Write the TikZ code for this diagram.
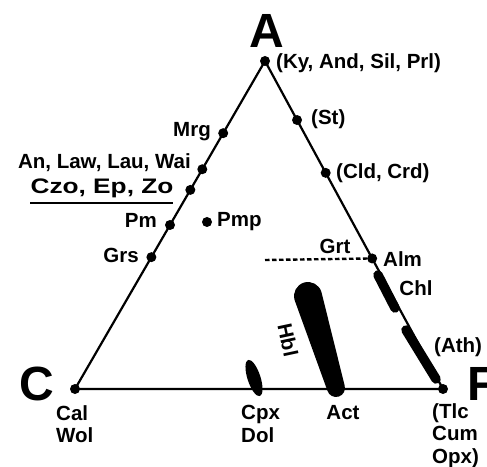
\documentclass[tikz,border=0pt]{standalone}
\usepackage{fontspec}
\setmainfont{Liberation Sans}
\usetikzlibrary{calc}

\tikzset{
  lbl/.style={font=\fontsize{20.5}{22.5}\selectfont\bfseries, inner sep=0pt},
  corner/.style={font=\fontsize{48}{48}\selectfont\bfseries, inner sep=0pt},
  phase/.style={fill, circle, inner sep=0pt, minimum size=10pt},
  band/.style={line width=9.5pt, line cap=round},
}

\begin{document}
\begin{tikzpicture}[x=1pt,y=1pt]
\useasboundingbox (0,0) rectangle (487,466);

% corners of the ACF triangle
\coordinate (A) at (265,405);
\coordinate (C) at (75,77);
\coordinate (F) at (443,77);

\draw[line width=2.2pt] (A) -- (C) -- (F) -- cycle;

\node[corner] (Alab) at (267,435) {A};
\node[corner] (Clab) at (37,82) {C};
\node[corner, anchor=west] (Flab) at (467,82) {F};

% phases on the A-C side
\node[phase] (ky)  at (A) {};
\node[phase] (mrg) at ($(A)!0.22!(C)$) {};
\node[phase] (an)  at ($(A)!0.33!(C)$) {};
\node[phase] (czo) at ($(A)!0.393!(C)$) {};
\node[phase] (pm)  at ($(A)!0.5!(C)$) {};
\node[phase] (grs) at ($(A)!0.598!(C)$) {};
\node[phase] (cal) at (C) {};

% phases on the A-F side
\node[phase] (st)  at ($(A)!0.18!(F)$) {};
\node[phase] (cld) at ($(A)!0.341!(F)$) {};
\node[phase] (alm) at ($(A)!0.602!(F)$) {};
\node[phase] (tlc) at (F) {};

\node[phase] (pmp) at (207,244) {};

\node[lbl, anchor=west] (kylab) at (276,403) {(Ky, And, Sil, Prl)};
\node[lbl, anchor=west] (stlab) at (311,347) {(St)};
\node[lbl, anchor=west] (cldlab) at (336,293) {(Cld, Crd)};
\node[lbl, anchor=east] (mrglab) at (211,334) {Mrg};
\node[lbl, anchor=east] (anlab) at (191,303) {An, Law, Lau, Wai};
\node[font=\fontsize{21}{21}\selectfont\bfseries, inner sep=0pt] (czolab) at (102,278) {\scalebox{1.25}[1]{Czo, Ep, Zo}};
\draw[line width=2pt] (30,263) -- (173,263);
\node[lbl, anchor=east] (pmlab) at (157,246) {Pm};
\node[lbl, anchor=west] (pmplab) at (217,244) {Pmp};
\node[lbl, anchor=east] (grslab) at (139,211) {Grs};

% garnet tie line
\coordinate (grt) at (265,206);
\draw[line width=2.4pt, dash pattern=on 4.5pt off 2.5pt] (grt) -- (alm);
\node[lbl] (grtlab) at (335,220) {Grt};
\node[lbl, anchor=west] (almlab) at (383,207) {Alm};

% chlorite and anthophyllite bands
\draw[band] (378,191) -- (395,158);
\draw[band] (406,136) -- (436,87);
\node[lbl] (chllab) at (416,178) {Chl};
\node[lbl, anchor=west] (athlab) at (434,119) {(Ath)};

% hornblende field
\coordinate (hbltop) at (308,170);
\coordinate (hblbot) at (336,78);
\fill ($(hbltop)+(16.9:14)$) -- ($(hblbot)+(16.9:9)$)
  arc[start angle=16.9, end angle=-163.1, radius=9]
  -- ($(hbltop)+(196.9:14)$)
  arc[start angle=196.9, end angle=16.9, radius=14] -- cycle;
\node[lbl, rotate=-78] (hbllab) at (288,126) {Hbl};

% clinopyroxene field
\coordinate (cpx) at (254,88);
\fill[rotate around={108:(cpx)}] (cpx) ellipse [x radius=19, y radius=6.5];

% labels below the C-F side
\node[lbl, anchor=north west, align=left] (callab) at (56,61) {Cal\\Wol};
\node[lbl, anchor=north west, align=left] (cpxlab) at (241,61) {Cpx\\Dol};
\node[lbl, anchor=north] (actlab) at (343,61) {Act};
\node[lbl, anchor=north west, align=left] (tlclab) at (432,63) {(Tlc\\Cum\\Opx)};

\end{tikzpicture}
\end{document}
